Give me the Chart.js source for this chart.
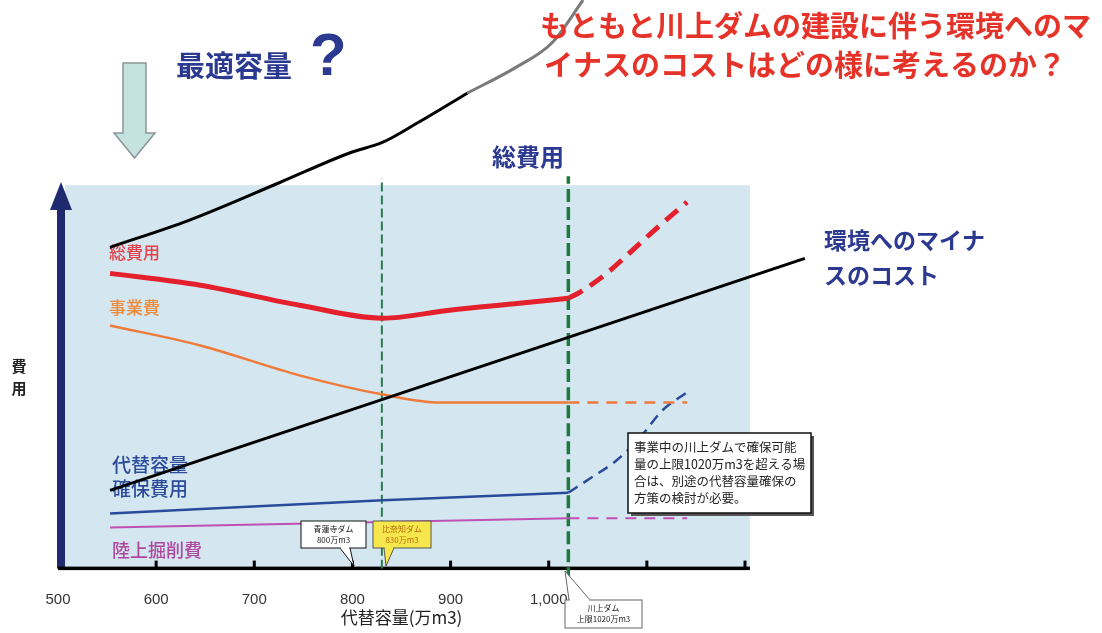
<!DOCTYPE html>
<html lang="ja">
<head>
<meta charset="utf-8">
<title>代替容量と費用</title>
<script src="https://cdn.jsdelivr.net/npm/chart.js@4/dist/chart.umd.min.js"></script>
<style>
  html, body { margin: 0; padding: 0; background: #fff; }
  #wrap { width: 1102px; height: 633px; position: relative; }
</style>
</head>
<body>
<div id="wrap"><canvas id="costChart" width="1102" height="633"></canvas></div>
<script>
const JP = '"Noto Sans CJK JP", "Noto Sans", sans-serif';

// 代替容量 (万m3) の目盛
const capacityTicks = [500, 600, 700, 800, 900, 1000, 1100, 1200];
const optimumCapacity = 830;   // 比奈知ダム 830万m3
const kawakamiLimit = 1020;    // 川上ダム 上限1020万m3

// 各費用曲線 [容量, 費用]
const totalCost = [[553, 77.0], [645, 73.9], [746, 68.7], [831, 65.3], [899, 67.4], [970, 69.2], [1020, 70.5]];
const totalCostBeyond = [[1020, 70.5], [1032, 72.1], [1059, 77.0], [1083, 82.5], [1111, 89.0], [1141, 95.6]];
const projectCost = [[553, 63.4], [645, 58.2], [746, 50.4], [831, 45.4], [889, 43.3], [1020, 43.3]];
const projectCostBeyond = [[1020, 43.3], [1141, 43.3]];
const altCapacityCost = [[553, 14.4], [831, 17.8], [1020, 19.8]];
const altCapacityCostBeyond = [[1020, 19.8], [1042, 23.5], [1069, 28.2], [1093, 34.2], [1116, 41.3], [1141, 46.0]];
const excavationCost = [[553, 10.7], [1020, 13.1]];
const excavationCostBeyond = [[1020, 13.1], [1141, 13.1]];
const envCost = [[553, 20.4], [1261, 80.9]];
const totalWithEnv = [[553, 83.8], [634, 90.9], [726, 100.7], [797, 108.4], [831, 111.2], [866, 116.2], [917, 124.0]];
const totalWithEnvUpper = [[917, 124.0], [967, 130.8], [1004, 137.3], [1035, 148.3]];

const toXY = pts => pts.map(p => ({ x: p[0], y: p[1] }));

function series(pts, color, width, dash, order) {
  return {
    data: toXY(pts),
    borderColor: color,
    borderWidth: width,
    borderDash: dash || [],
    cubicInterpolationMode: 'monotone',
    pointRadius: 0,
    fill: false,
    clip: false,
    order: order || 1
  };
}

function vline(x, y0, y1, color, width, dash) {
  return series([[x, y0], [x, y1]], color, width, dash, 10);
}

function text(ctx, str, x, y, font, color, align) {
  ctx.font = font;
  ctx.fillStyle = color;
  ctx.textAlign = align || 'left';
  ctx.textBaseline = 'middle';
  ctx.fillText(str, x, y);
}

// 吹き出し枠 (tail = [根元左, 根元右, 先端x, 先端y])
function callout(ctx, box, tail, fill, stroke, lines, color, size) {
  ctx.save();
  const up = tail[3] < box.y;
  const baseY = up ? box.y : box.y + box.h;
  ctx.beginPath();
  ctx.moveTo(tail[0], baseY);
  ctx.lineTo(tail[2], tail[3]);
  ctx.lineTo(tail[1], baseY);
  ctx.fillStyle = fill;
  ctx.fill();
  ctx.strokeStyle = stroke;
  ctx.lineWidth = 1;
  ctx.stroke();
  ctx.fillRect(box.x, box.y, box.w, box.h);
  ctx.strokeRect(box.x, box.y, box.w, box.h);
  ctx.fillRect(tail[0] + 0.8, baseY - 1, tail[1] - tail[0] - 1.6, 2);
  lines.forEach((l, i) => {
    text(ctx, l, box.x + box.w / 2, box.y + 8 + i * 11, size + 'px ' + JP, color, 'center');
  });
  ctx.restore();
}

const backdrop = {
  id: 'backdrop',
  beforeDatasetsDraw(chart) {
    const { ctx, scales: { x, y } } = chart;
    ctx.save();
    // 水色の背景
    const left = x.getPixelForValue(507), right = x.getPixelForValue(1205);
    const top = y.getPixelForValue(100), bottom = y.getPixelForValue(0);
    ctx.fillStyle = '#d4e7f0';
    ctx.fillRect(left, top, right - left, bottom - top);

    // 縦軸の矢印
    ctx.fillStyle = '#1f2a6e';
    ctx.fillRect(57, 206, 8, bottom - 206);
    ctx.beginPath();
    ctx.moveTo(61, 182);
    ctx.lineTo(72, 210);
    ctx.lineTo(50, 210);
    ctx.closePath();
    ctx.fill();

    // 横軸
    ctx.fillStyle = '#000';
    ctx.fillRect(58, bottom - 2, x.getPixelForValue(1205) - 58, 3.5);
    capacityTicks.slice(1).forEach(v => {
      const px = x.getPixelForValue(v);
      ctx.fillRect(px - 1.5, bottom - 8, 3, 8);
    });

    // 曲線名
    text(ctx, '総費用', 109, 253, '500 17px ' + JP, '#e2434b');
    text(ctx, '事業費', 109, 308, '500 17px ' + JP, '#ee8a3c');
    text(ctx, '代替容量', 112, 465, '500 19px ' + JP, '#2d4b9b');
    text(ctx, '確保費用', 112, 489, '500 19px ' + JP, '#2d4b9b');
    text(ctx, '陸上掘削費', 112, 550, '500 18px ' + JP, '#b0479f');
    ctx.restore();
  },
  afterDatasetsDraw(chart) {
    const { ctx } = chart;
    ctx.save();

    // 下向き矢印
    ctx.beginPath();
    ctx.moveTo(123, 63);
    ctx.lineTo(146, 63);
    ctx.lineTo(146, 133);
    ctx.lineTo(155, 133);
    ctx.lineTo(134.5, 158);
    ctx.lineTo(114, 133);
    ctx.lineTo(123, 133);
    ctx.closePath();
    ctx.fillStyle = '#c4e3df';
    ctx.fill();
    ctx.strokeStyle = '#8a9596';
    ctx.lineWidth = 1.5;
    ctx.stroke();

    text(ctx, '最適容量', 176, 66, 'bold 29px ' + JP, '#2b3990');
    text(ctx, '?', 310, 58, 'bold 60px "Liberation Sans", sans-serif', '#2b3990');
    text(ctx, '総費用', 492, 157, 'bold 24px ' + JP, '#2b3990');

    text(ctx, 'もともと川上ダムの建設に伴う環境へのマ', 540, 26, 'bold 29px ' + JP, '#e6332a');
    text(ctx, 'イナスのコストはどの様に考えるのか？', 544, 65, 'bold 29px ' + JP, '#e6332a');

    text(ctx, '環境へのマイナ', 824, 240, 'bold 23px ' + JP, '#2b3990');
    text(ctx, 'スのコスト', 824, 275, 'bold 23px ' + JP, '#2b3990');

    // 縦軸名
    text(ctx, '費', 19, 366, 'bold 15px ' + JP, '#222', 'center');
    text(ctx, '用', 19, 388, 'bold 15px ' + JP, '#222', 'center');

    // ダムの吹き出し
    callout(ctx, { x: 301, y: 521, w: 65, h: 27 }, [340, 350, 354, 566], '#fff', '#111',
      ['青蓮寺ダム', '800万m3'], '#222', 8);
    callout(ctx, { x: 373, y: 521, w: 58, h: 27 }, [384, 394, 386, 566], '#f6e84c', '#555',
      ['比奈知ダム', '830万m3'], '#b86a10', 8);
    callout(ctx, { x: 565, y: 600, w: 77, h: 28 }, [569, 590, 565, 571], '#fff', '#666',
      ['川上ダム', '上限1020万m3'], '#222', 8);

    // 注記
    ctx.fillStyle = '#555';
    ctx.fillRect(631, 436, 183, 80);
    ctx.fillStyle = '#fff';
    ctx.fillRect(628, 433, 183, 80);
    ctx.strokeStyle = '#111';
    ctx.lineWidth = 1.5;
    ctx.strokeRect(628, 433, 183, 80);
    ['事業中の川上ダムで確保可能', '量の上限1020万m3を超える場', '合は、別途の代替容量確保の', '方策の検討が必要。']
      .forEach((l, i) => text(ctx, l, 634, 447 + i * 17, '12.5px ' + JP, '#222'));

    ctx.restore();
  }
};

new Chart(document.getElementById('costChart'), {
  type: 'line',
  data: {
    datasets: [
      series(totalWithEnv, '#000', 3),
      series(totalWithEnvUpper, '#7a7a7a', 3),
      series(envCost, '#000', 3),
      series(totalCost, '#e3202c', 5),
      series(totalCostBeyond, '#e3202c', 5, [16, 9]),
      series(projectCost, '#ef7a3a', 2.5),
      series(projectCostBeyond, '#ef7a3a', 2.5, [11, 8]),
      series(altCapacityCost, '#2a4a9c', 2.5),
      series(altCapacityCostBeyond, '#2a4a9c', 2.5, [11, 7]),
      series(excavationCost, '#c050b4', 2),
      series(excavationCostBeyond, '#c050b4', 2, [11, 8]),
      vline(optimumCapacity, 0, 101.8, '#2d7a52', 2, [9, 4]),
      vline(kawakamiLimit, -3, 102.3, '#1d7a3c', 3.5, [13, 5])
    ]
  },
  options: {
    responsive: false,
    animation: false,
    events: [],
    layout: { padding: { left: 58, right: 357, top: 0, bottom: 1 } },
    plugins: { legend: { display: false }, tooltip: { enabled: false } },
    scales: {
      x: {
        type: 'linear',
        min: 500,
        max: 1200,
        afterBuildTicks: axis => { axis.ticks = capacityTicks.map(v => ({ value: v })); },
        grid: { display: false, drawTicks: false },
        border: { display: false },
        ticks: {
          padding: 22,
          color: '#333',
          font: { family: '"Liberation Sans", sans-serif', size: 15 },
          maxRotation: 0,
          callback: v => (v <= 1000 ? v.toLocaleString('en-US') : '')
        },
        title: {
          display: true,
          text: '代替容量(万m3)',
          color: '#222',
          font: { family: JP, size: 17 },
          padding: { top: -23, bottom: 4 }
        }
      },
      y: { display: false, min: 0, max: 148.3 }
    }
  },
  plugins: [backdrop]
});
</script>
</body>
</html>
